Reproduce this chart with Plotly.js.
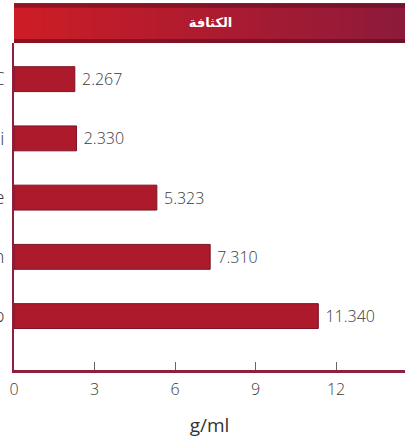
<!DOCTYPE html>
<html>
<head>
<meta charset="utf-8">
<script src="https://cdn.plot.ly/plotly-3.0.1.min.js"></script>
<style>html,body{margin:0;padding:0;background:#fff;}#chart{width:405px;height:444px;}</style>
</head>
<body>
<div id="chart"></div>
<script>
const categories = ["C", "Si", "Ge", "Sn", "Pb"];
const densities = [2.267, 2.330, 5.323, 7.310, 11.340];
const valueLabels = ["2.267", "2.330", "5.323", "7.310", "11.340"];
const xTicks = [0, 3, 6, 9, 12];
const titleText = "الكثافة";
const axisTitle = "g/ml";

function lerp(a, b, t) { return Math.round(a + (b - a) * t); }
function hex(c) { return [parseInt(c.slice(1,3),16), parseInt(c.slice(3,5),16), parseInt(c.slice(5,7),16)]; }
const c0 = hex("#cc1d26"), c1 = hex("#8e1a3a");
const shapes = [];
const N = 30, x0 = 0, x1 = 1.0;
for (let i = 0; i < N; i++) {
  const t = i / (N - 1);
  const col = `rgb(${lerp(c0[0],c1[0],t)},${lerp(c0[1],c1[1],t)},${lerp(c0[2],c1[2],t)})`;
  shapes.push({type:'rect', xref:'paper', yref:'paper', layer:'above',
    x0: x0 + (x1 - x0) * i / N, x1: x0 + (x1 - x0) * (i + 1) / N + 0.002,
    y0: 1.0, y1: 1.122, fillcolor: col, line: {width: 0}});
}
shapes.push({type:'rect', xref:'paper', yref:'paper', layer:'above', x0:x0, x1:1, y0:1.108, y1:1.122, fillcolor:'rgba(80,8,28,0.45)', line:{width:0}});
shapes.push({type:'rect', xref:'paper', yref:'paper', layer:'above', x0:x0, x1:1, y0:1.0, y1:1.012, fillcolor:'rgba(80,8,28,0.5)', line:{width:0}});

const trace = {
  type: 'bar', orientation: 'h',
  y: categories, x: densities,
  text: valueLabels, texttemplate: ' %{text}', textposition: 'outside', cliponaxis: false,
  textfont: {family: 'Open Sans, sans-serif', size: 16, color: '#3a3a3a', weight: 300},
  marker: {color: '#ac1a2b', line: {color: '#7a1426', width: 1}},
  width: 0.42, hoverinfo: 'none'
};

const layout = {
  width: 405, height: 444,
  margin: {l: 14, r: 0, t: 43, b: 74, autoexpand: false},
  paper_bgcolor: '#fff', plot_bgcolor: '#fff',
  showlegend: false,
  title: {text: titleText, x: 0.52, xanchor: 'center', y: 1 - 22/444, yanchor: 'middle', yref: 'container',
    font: {family: 'DejaVu Sans, sans-serif', size: 13, color: '#ffffff', weight: 'bold'}},
  xaxis: {range: [0, 14.57], tickvals: xTicks, ticktext: xTicks.map(String),
    ticks: 'inside', ticklen: 8, tickcolor: '#666', tickwidth: 1,
    showgrid: false, zeroline: false, showline: true, linecolor: '#8d1f3f', linewidth: 3,
    tickfont: {family: 'Open Sans, sans-serif', size: 16, color: '#3a3a3a', weight: 300},
    ticklabelstandoff: 3, automargin: false,
    title: {text: axisTitle, standoff: 20, font: {family: 'Open Sans, sans-serif', size: 19, color: '#333'}}},
  yaxis: {type: 'category', range: [4.91, -0.61], showgrid: false, zeroline: false,
    showline: true, linecolor: '#8d1f3f', linewidth: 2, ticks: '',
    tickfont: {family: 'Open Sans, sans-serif', size: 18, color: '#333', weight: 300},
    ticklabelstandoff: 4, automargin: false},
  shapes: shapes
};
Plotly.newPlot('chart', [trace], layout, {displayModeBar: false, staticPlot: true});
</script>
</body>
</html>
